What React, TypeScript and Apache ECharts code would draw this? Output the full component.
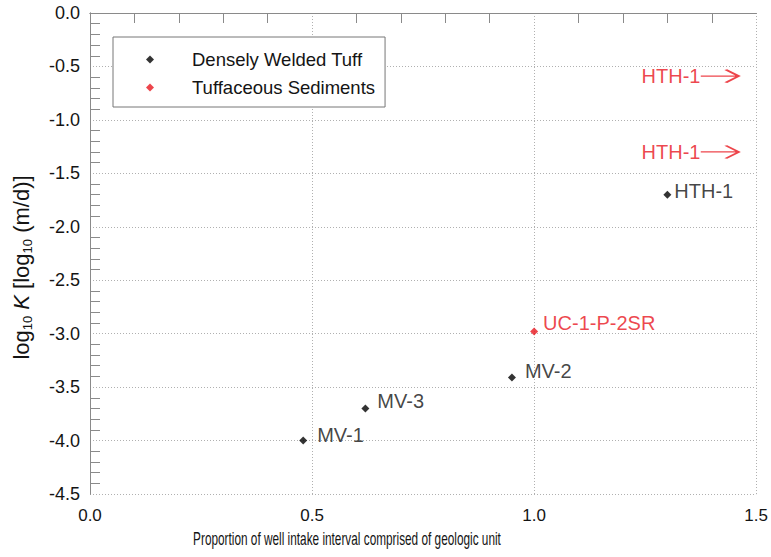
import React, { useEffect, useRef } from "react";
import * as echarts from "echarts";

// Densely Welded Tuff
const dwtNames = ["MV-1", "MV-3", "MV-2", "HTH-1"];
const dwtX = [0.48, 0.62, 0.95, 1.3];
const dwtY = [-4.0, -3.7, -3.41, -1.7];

// Tuffaceous Sediments
const tsNames = ["UC-1-P-2SR"];
const tsX = [1.0];
const tsY = [-2.98];

// Off-scale (proportion > 1.5) tuffaceous sediment values, shown as arrows
const offNames = ["HTH-1", "HTH-1"];
const offX = [1.418, 1.418];
const offY = [-0.59, -1.3];

const xTicks = { min: 0, max: 1.5, interval: 0.5 };
const yTicks = { min: -4.5, max: 0, interval: 0.5 };

const xTitle = "Proportion of well intake interval comprised of geologic unit";

const RED = "#e8161e";
const AXIS = "#8a8a8a";
const INK = "#141414";
const FONT = "Liberation Sans, Arial, Helvetica, sans-serif";
const TICK_LEN = 5;

export default function App() {
  const ref = useRef<HTMLDivElement>(null);
  useEffect(() => {
    if (!ref.current) return;
    const chart = echarts.init(ref.current, undefined, { renderer: "svg" });
    const labelOffsets: Record<string, [number, number]> = {
      "MV-1": [0, -6],
      "MV-3": [0, -7],
      "MV-2": [0, -6],
      "HTH-1": [0, -4],
    };
    const labelDist: Record<string, number> = { "MV-1": 10, "MV-3": 8, "MV-2": 9, "HTH-1": 3 };

    // axis that only draws its frame line
    const frameAxis = (scale: { min: number; max: number; interval: number }, position: string) => ({
      type: "value",
      min: scale.min,
      max: scale.max,
      interval: scale.interval,
      position,
      axisLine: { show: true, lineStyle: { color: AXIS, width: 1 } },
      axisTick: { show: false },
      minorTick: { show: false },
      axisLabel: { show: false },
      splitLine: { show: false },
    });
    // axis shifted inside the plot so its outward minor ticks look like inward ticks
    const tickAxis = (scale: { min: number; max: number; interval: number }, position: string) => ({
      type: "value",
      min: scale.min,
      max: scale.max,
      interval: scale.interval,
      position,
      offset: -TICK_LEN,
      axisLine: { show: false },
      axisTick: { show: false },
      minorTick: { show: true, splitNumber: 5, length: TICK_LEN, lineStyle: { color: AXIS, width: 1 } },
      axisLabel: { show: false },
      splitLine: { show: false },
    });

    chart.setOption({
      animation: false,
      backgroundColor: "#ffffff",
      textStyle: { fontFamily: FONT },
      grid: { left: 90, right: 14, top: 13, bottom: 63, containLabel: false },
      legend: {
        left: 113,
        top: 37,
        orient: "vertical",
        data: ["Densely Welded Tuff", "Tuffaceous Sediments"],
        backgroundColor: "#ffffff",
        borderColor: "#777777",
        borderWidth: 1,
        borderRadius: 0,
        padding: [13, 10, 10, 33],
        itemWidth: 8,
        itemHeight: 8,
        itemGap: 9,
        icon: "diamond",
        textStyle: { fontSize: 18.5, color: INK, fontFamily: FONT, padding: [0, 0, 0, 33], lineHeight: 18 },
        z: 10,
      },
      graphic: [
        {
          type: "text",
          x: 347,
          y: 538,
          scaleX: 0.656,
          silent: true,
          style: {
            text: xTitle,
            fontSize: 18,
            fontFamily: FONT,
            fill: INK,
            align: "center",
            verticalAlign: "middle",
          },
        },
      ],
      xAxis: [
        {
          type: "value",
          min: xTicks.min,
          max: xTicks.max,
          interval: xTicks.interval,
          position: "bottom",
          axisLine: { show: true, lineStyle: { color: AXIS, width: 1 } },
          axisTick: { show: false },
          minorTick: { show: false },
          axisLabel: {
            margin: 13,
            fontSize: 17,
            color: INK,
            fontFamily: FONT,
            formatter: (v: number) => v.toFixed(1),
          },
          splitLine: { show: true, lineStyle: { color: "#b0b0b0", type: [1, 2], width: 1 } },
        },
        frameAxis(xTicks, "top"),
        tickAxis(xTicks, "bottom"),
        tickAxis(xTicks, "top"),
      ],
      yAxis: [
        {
          type: "value",
          min: yTicks.min,
          max: yTicks.max,
          interval: yTicks.interval,
          position: "left",
          axisLine: { show: true, lineStyle: { color: AXIS, width: 1 } },
          axisTick: { show: false },
          minorTick: { show: false },
          axisLabel: {
            margin: 10,
            fontSize: 18,
            color: INK,
            fontFamily: FONT,
            formatter: (v: number) => v.toFixed(1),
          },
          splitLine: { show: true, lineStyle: { color: "#b0b0b0", type: [1, 2], width: 1 } },
          name: "{n|log}{s|10}{n| }{i|K}{n| [log}{s|10}{n| (m/d)]}",
          nameLocation: "middle",
          nameGap: 57,
          nameTextStyle: {
            color: INK,
            fontSize: 22,
            fontFamily: FONT,
            padding: [0, 28, 0, 0],
            rich: {
              n: { fontSize: 22, lineHeight: 24, fontFamily: FONT, color: INK },
              i: { fontSize: 22, lineHeight: 24, fontStyle: "italic", fontFamily: FONT, color: INK },
              s: { fontSize: 13, lineHeight: 14, padding: [12, 0, 0, 0], fontFamily: FONT, color: INK },
            },
          },
        },
        frameAxis(yTicks, "right"),
        tickAxis(yTicks, "left"),
        tickAxis(yTicks, "right"),
      ],
      series: [
        {
          name: "Densely Welded Tuff",
          type: "scatter",
          symbol: "diamond",
          symbolSize: 8,
          itemStyle: { color: "#000000" },
          z: 5,
          data: dwtX.map((x, i) => ({
            value: [x, dwtY[i]],
            name: dwtNames[i],
            label: {
              show: true,
              position: "right",
              distance: labelDist[dwtNames[i]] ?? 8,
              offset: labelOffsets[dwtNames[i]] ?? [0, -6],
              formatter: "{b}",
              fontSize: 20,
              color: INK,
              fontFamily: FONT,
            },
          })),
        },
        {
          name: "Tuffaceous Sediments",
          type: "scatter",
          symbol: "diamond",
          symbolSize: 8,
          itemStyle: { color: RED },
          z: 5,
          data: tsX.map((x, i) => ({
            value: [x, tsY[i]],
            name: tsNames[i],
            label: {
              show: true,
              position: "right",
              distance: 5,
              offset: [0, -9],
              formatter: "{b}",
              fontSize: 20,
              color: RED,
              fontFamily: FONT,
            },
          })),
        },
        {
          name: "HTH-1 off scale",
          type: "scatter",
          symbol: "path://M0,6.5 L38,6.5 M25,0 L38,6.5 L25,13",
          symbolSize: [38, 13],
          itemStyle: { color: "none", borderColor: RED, borderWidth: 2 },
          z: 5,
          data: offX.map((x, i) => ({
            value: [x, offY[i]],
            name: offNames[i],
            label: {
              show: true,
              position: "left",
              distance: -4,
              formatter: "{b}",
              fontSize: 20,
              color: RED,
              fontFamily: FONT,
            },
          })),
        },
      ],
    });
    return () => chart.dispose();
  }, []);
  return <div ref={ref} style={{ width: 771, height: 557, position: "absolute", left: 0, top: 0 }} />;
}
